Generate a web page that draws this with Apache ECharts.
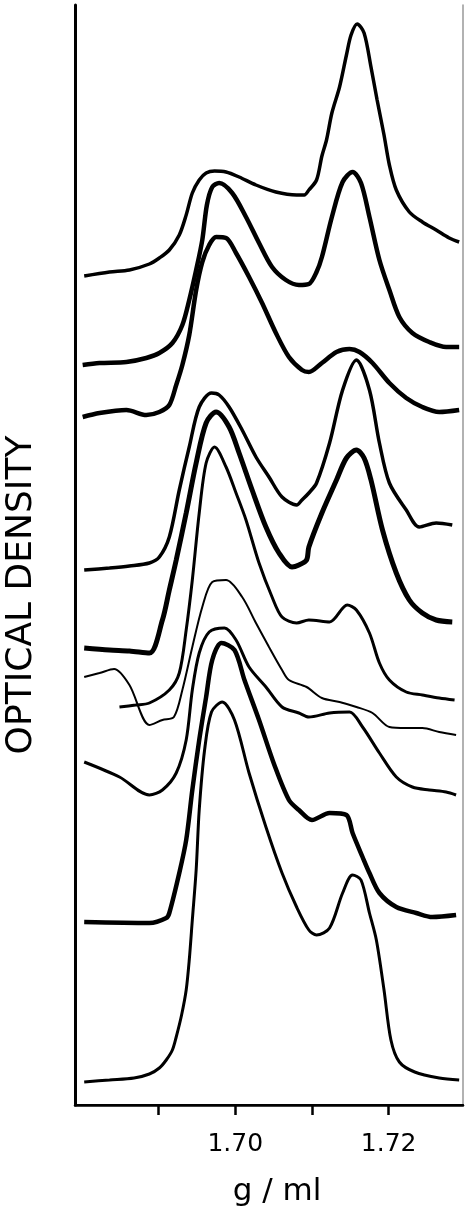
<!DOCTYPE html>
<html><head><meta charset="utf-8">
<script src="https://cdn.jsdelivr.net/npm/echarts@6/dist/echarts.min.js"></script>
<style>html,body{margin:0;padding:0;background:#fff}#c{width:465px;height:1215px}</style>
</head><body><div id="c"></div>
<script>
// buoyant density (g/ml) and optical density (offset traces, arbitrary units)
const c1_g = [1.6803,1.6836,1.6862,1.6888,1.6901,1.6914,1.6927,1.6936,1.6944,1.6953,1.6962,1.6973,1.6988,1.7005,1.7027,1.7053,1.7080,1.7090,1.7096,1.7106,1.7113,1.7119,1.7126,1.7136,1.7145,1.7151,1.7159,1.7168,1.7177,1.7185,1.7194,1.7201,1.7210,1.7227,1.7244,1.7262,1.7279,1.7292];
const c1_od = [8.29,8.33,8.35,8.41,8.47,8.55,8.70,8.90,9.12,9.25,9.32,9.34,9.33,9.28,9.20,9.13,9.10,9.10,9.15,9.25,9.49,9.65,9.92,10.18,10.50,10.70,10.81,10.72,10.38,10.05,9.70,9.40,9.15,8.93,8.83,8.75,8.67,8.63];
const c2_g = [1.6801,1.6823,1.6858,1.6884,1.6901,1.6918,1.6931,1.6940,1.6949,1.6957,1.6963,1.6970,1.6979,1.6996,1.7014,1.7031,1.7048,1.7066,1.7083,1.7096,1.7106,1.7113,1.7126,1.7140,1.7153,1.7164,1.7175,1.7188,1.7201,1.7214,1.7231,1.7253,1.7275,1.7292];
const c2_od = [7.40,7.42,7.43,7.47,7.52,7.62,7.80,8.05,8.35,8.65,9.00,9.18,9.22,9.12,8.88,8.62,8.38,8.25,8.20,8.21,8.33,8.48,8.88,9.23,9.33,9.22,8.88,8.45,8.15,7.88,7.72,7.63,7.58,7.58];
const c3_g = [1.6801,1.6823,1.6858,1.6884,1.6901,1.6914,1.6923,1.6931,1.6940,1.6949,1.6957,1.6966,1.6975,1.6988,1.7001,1.7018,1.7035,1.7053,1.7070,1.7087,1.7096,1.7113,1.7132,1.7149,1.7162,1.7179,1.7201,1.7223,1.7244,1.7266,1.7292];
const c3_od = [6.88,6.92,6.95,6.90,6.93,7.00,7.20,7.40,7.70,8.15,8.43,8.60,8.68,8.67,8.52,8.28,8.02,7.72,7.48,7.35,7.33,7.42,7.53,7.56,7.53,7.42,7.22,7.07,6.98,6.93,6.95];
const c4_g = [1.6803,1.6836,1.6862,1.6888,1.6901,1.6914,1.6927,1.6940,1.6953,1.6969,1.6979,1.6992,1.7009,1.7027,1.7044,1.7061,1.7080,1.7087,1.7096,1.7106,1.7123,1.7140,1.7158,1.7175,1.7188,1.7201,1.7223,1.7240,1.7262,1.7283];
const c4_od = [5.35,5.37,5.39,5.42,5.48,5.68,6.15,6.58,6.98,7.12,7.10,6.98,6.75,6.48,6.28,6.08,6.00,6.05,6.12,6.22,6.62,7.15,7.45,7.15,6.62,6.22,5.95,5.78,5.82,5.80];
const c5_g = [1.6803,1.6836,1.6862,1.6888,1.6905,1.6914,1.6923,1.6936,1.6949,1.6962,1.6975,1.6992,1.7005,1.7022,1.7040,1.7057,1.7074,1.7083,1.7093,1.7096,1.7113,1.7132,1.7145,1.7158,1.7168,1.7177,1.7192,1.7210,1.7227,1.7244,1.7262,1.7283];
const c5_od = [4.57,4.55,4.54,4.52,4.85,5.15,5.45,5.92,6.42,6.82,6.93,6.78,6.52,6.15,5.78,5.52,5.38,5.40,5.45,5.58,5.92,6.25,6.47,6.55,6.47,6.25,5.75,5.32,5.05,4.92,4.85,4.83];
const c6_g = [1.6849,1.6870,1.6888,1.6914,1.6927,1.6936,1.6944,1.6953,1.6962,1.6973,1.6988,1.7001,1.7014,1.7031,1.7048,1.7061,1.7080,1.7096,1.7123,1.7146,1.7158,1.7175,1.7188,1.7201,1.7223,1.7244,1.7266,1.7286];
const c6_od = [3.98,4.00,4.02,4.15,4.32,4.75,5.25,5.92,6.42,6.58,6.38,6.12,5.85,5.42,5.08,4.88,4.82,4.85,4.83,5.00,4.95,4.72,4.42,4.25,4.13,4.10,4.07,4.05];
const c7_g = [1.6803,1.6823,1.6842,1.6862,1.6888,1.6905,1.6920,1.6931,1.6944,1.6957,1.6970,1.6988,1.7009,1.7027,1.7044,1.7061,1.7070,1.7093,1.7113,1.7136,1.7158,1.7179,1.7201,1.7223,1.7244,1.7266,1.7288];
const c7_od = [4.28,4.32,4.36,4.20,3.80,3.85,3.88,4.15,4.58,4.98,5.23,5.25,5.08,4.82,4.58,4.35,4.25,4.18,4.07,4.03,3.98,3.92,3.78,3.77,3.77,3.73,3.70];
const c8_g = [1.6803,1.6849,1.6888,1.6905,1.6923,1.6936,1.6944,1.6953,1.6966,1.6986,1.7001,1.7018,1.7040,1.7061,1.7083,1.7096,1.7123,1.7149,1.7166,1.7188,1.7210,1.7231,1.7253,1.7275,1.7288];
const c8_od = [3.43,3.28,3.10,3.15,3.32,3.65,4.15,4.52,4.73,4.77,4.65,4.38,4.18,3.98,3.92,3.88,3.92,3.93,3.78,3.52,3.28,3.18,3.15,3.13,3.10];
const c9_g = [1.6803,1.6888,1.6910,1.6914,1.6927,1.6936,1.6944,1.6953,1.6962,1.6970,1.6982,1.6999,1.7012,1.7031,1.7051,1.7070,1.7083,1.7100,1.7123,1.7145,1.7153,1.7166,1.7175,1.7188,1.7210,1.7236,1.7257,1.7288];
const c9_od = [1.83,1.82,1.87,1.92,2.32,2.65,3.15,3.65,4.08,4.45,4.62,4.55,4.25,3.85,3.40,3.05,2.95,2.85,2.92,2.90,2.72,2.48,2.32,2.12,1.98,1.92,1.88,1.90];
const c10_g = [1.6803,1.6836,1.6868,1.6888,1.6901,1.6910,1.6918,1.6923,1.6930,1.6936,1.6940,1.6944,1.6949,1.6953,1.6960,1.6969,1.6983,1.6999,1.7018,1.7040,1.7061,1.7080,1.7096,1.7106,1.7123,1.7140,1.7153,1.7164,1.7175,1.7184,1.7194,1.7203,1.7214,1.7234,1.7266,1.7292];
const c10_od = [0.23,0.25,0.27,0.31,0.37,0.45,0.55,0.68,0.90,1.15,1.45,1.85,2.35,2.95,3.55,3.93,4.03,3.85,3.32,2.78,2.32,1.98,1.75,1.70,1.77,2.12,2.30,2.25,1.92,1.65,1.15,0.65,0.43,0.33,0.27,0.25];

const tickValues = [1.69, 1.70, 1.71, 1.72];
const labelValues = [1.70, 1.72];
const xTitle = 'g / ml';
const yTitle = 'OPTICAL DENSITY';

const traces = [
  [c1_g, c1_od, 3.5], [c2_g, c2_od, 4.5], [c3_g, c3_od, 4.5], [c4_g, c4_od, 3.5],
  [c5_g, c5_od, 5], [c6_g, c6_od, 3], [c7_g, c7_od, 2], [c8_g, c8_od, 3],
  [c9_g, c9_od, 4.5], [c10_g, c10_od, 3]
];
function zip(a, b) { const n = Math.min(a.length, b.length); const r = []; for (let i = 0; i < n; i++) r.push([a[i], b[i]]); return r; }

const chart = echarts.init(document.getElementById('c'), null, {renderer: 'canvas'});
chart.setOption({
  animation: false,
  backgroundColor: '#fff',
  grid: {left: 75, right: 2, top: 5, bottom: 110, containLabel: false, outerBoundsMode: 'none'},
  graphic: [{
    type: 'text', x: 277, y: 1192, silent: true,
    style: {text: xTitle, fill: '#000', fontSize: 31, fontFamily: 'DejaVu Sans', align: 'center', verticalAlign: 'middle'}
  }],
  xAxis: [{
    type: 'value', min: 1.6791, max: 1.7297,
    axisLine: {show: true, lineStyle: {color: '#000', width: 2.5}},
    axisTick: {show: true, customValues: tickValues, length: 10, lineStyle: {color: '#000', width: 2.5}},
    axisLabel: {show: true, customValues: labelValues, formatter: v => v.toFixed(2), margin: 27,
      color: '#000', fontSize: 25, fontFamily: 'DejaVu Sans'},
    splitLine: {show: false}
  }, {
    type: 'value', position: 'top', min: 1.6791, max: 1.7297,
    axisLine: {show: true, lineStyle: {color: '#000', width: 2}},
    axisTick: {show: false}, axisLabel: {show: false}, splitLine: {show: false}
  }],
  yAxis: [{
    type: 'value', min: 0, max: 11,
    axisLine: {show: true, lineStyle: {color: '#000', width: 3}},
    axisTick: {show: false}, axisLabel: {show: false}, splitLine: {show: false},
    name: yTitle, nameLocation: 'middle', nameGap: 35, nameRotate: 90,
    nameTextStyle: {color: '#000', fontSize: 36, fontFamily: 'DejaVu Sans', padding: [0, 80, 0, 0]}
  }, {
    type: 'value', position: 'right', min: 0, max: 11,
    axisLine: {show: true, lineStyle: {color: '#999', width: 1.5}},
    axisTick: {show: false}, axisLabel: {show: false}, splitLine: {show: false}
  }],
  series: traces.map(t => ({
    type: 'line', data: zip(t[0], t[1]), showSymbol: false, smooth: 0.3,
    lineStyle: {color: '#000', width: t[2]}, silent: true
  }))
});
</script></body></html>
